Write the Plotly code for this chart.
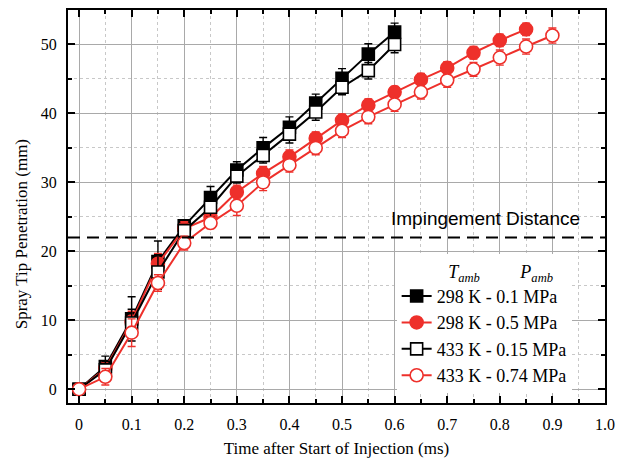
import plotly.graph_objects as go

# Time after start of injection (ms)
t_short = [0, 0.05, 0.10, 0.15, 0.20, 0.25, 0.30, 0.35, 0.40, 0.45, 0.50, 0.55, 0.60]
t_mid = [0, 0.05, 0.10, 0.15, 0.20, 0.25, 0.30, 0.35, 0.40, 0.45, 0.50, 0.55, 0.60,
         0.65, 0.70, 0.75, 0.80, 0.85]
t_long = [0, 0.05, 0.10, 0.15, 0.20, 0.25, 0.30, 0.35, 0.40, 0.45, 0.50, 0.55, 0.60,
          0.65, 0.70, 0.75, 0.80, 0.85, 0.90]

# Spray tip penetration (mm) and its spread
pen_298_01 = [0, 3.3, 10.2, 18.5, 23.7, 27.8, 31.8, 35.0, 38.0, 41.5, 45.1, 48.6, 51.8]
err_298_01 = [0, 1.5, 3.2, 3.0, 0.8, 1.6, 1.2, 1.5, 1.5, 1.3, 1.4, 1.5, 1.3]

pen_298_05 = [0, 3.0, 9.8, 18.2, 23.3, 24.9, 28.6, 31.3, 33.7, 36.4, 39.0, 41.2, 43.1,
              44.9, 46.6, 48.8, 50.6, 52.2]
err_298_05 = [0, 1.0, 1.5, 1.5, 1.0, 1.0, 1.0, 1.0, 1.0, 0.9, 0.9, 0.9, 0.8,
              0.9, 0.9, 0.9, 0.9, 0.9]

pen_433_015 = [0, 2.8, 9.6, 17.0, 23.0, 26.4, 30.9, 33.9, 37.0, 40.2, 43.8, 46.2, 50.0]
err_433_015 = [0, 1.2, 2.0, 2.5, 0.8, 1.4, 1.0, 1.1, 1.3, 1.2, 1.1, 1.2, 1.2]

pen_433_074 = [0, 1.8, 8.2, 15.4, 21.2, 24.1, 26.6, 30.0, 32.5, 35.0, 37.5, 39.5, 41.3,
               43.1, 44.8, 46.4, 48.1, 49.7, 51.3]
err_433_074 = [0, 1.2, 2.0, 1.2, 1.0, 0.8, 1.4, 1.2, 1.0, 1.0, 1.0, 1.0, 1.0,
               1.0, 1.0, 1.0, 1.1, 1.1, 1.1]

series_names = ["298 K - 0.1 MPa", "298 K - 0.5 MPa", "433 K - 0.15 MPa", "433 K - 0.74 MPa"]

impingement_distance = 22  # mm

x_tick_vals = [0, 0.1, 0.2, 0.3, 0.4, 0.5, 0.6, 0.7, 0.8, 0.9, 1.0]
x_tick_text = ["0", "0.1", "0.2", "0.3", "0.4", "0.5", "0.6", "0.7", "0.8", "0.9", "1.0"]
y_tick_vals = [0, 10, 20, 30, 40, 50]

BLACK = "#000000"
RED = "#ee302b"
SERIF = "Liberation Serif, Times New Roman, serif"

fig = go.Figure()


def add_series(x, y, err, name, color, symbol, filled):
    fig.add_trace(go.Scatter(
        x=x, y=y, name=name, mode="lines+markers",
        line=dict(color=color, width=2),
        marker=dict(symbol=symbol, size=12 if symbol == "square" else 13,
                    color=color if filled else "white",
                    line=dict(color=color, width=1.6)),
        error_y=dict(type="data", array=err, visible=True, color=color,
                     thickness=1.4, width=4),
    ))


add_series(t_short, pen_298_01, err_298_01, series_names[0], BLACK, "square", True)
add_series(t_mid, pen_298_05, err_298_05, series_names[1], RED, "circle", True)
add_series(t_short, pen_433_015, err_433_015, series_names[2], BLACK, "square", False)
add_series(t_long, pen_433_074, err_433_074, series_names[3], RED, "circle", False)

# Impingement distance reference line
fig.add_shape(type="line", xref="paper", x0=0, x1=1, yref="y",
              y0=impingement_distance, y1=impingement_distance,
              line=dict(color="black", width=2, dash="12px,7px"), layer="above")
fig.add_annotation(x=0.772, y=impingement_distance + 2.8, xref="x", yref="y",
                   text="Impingement Distance", showarrow=False,
                   font=dict(family="Liberation Sans, Arial, sans-serif", size=19,
                             color="black"),
                   xanchor="center", yanchor="middle")

# Vertical axis title, placed a little below the axis centre
fig.add_annotation(x=-0.087, y=0.43, xref="paper", yref="paper",
                   text="Spray Tip Penetration (mm)", textangle=-90, showarrow=False,
                   font=dict(family=SERIF, size=17, color="black"),
                   xanchor="center", yanchor="middle")

axis_common = dict(
    showline=True, linecolor="black", linewidth=2, mirror="ticks",
    ticks="inside", ticklen=7, tickwidth=1.5, tickcolor="black",
    showgrid=True, gridcolor="#a9a9a9", gridwidth=1,
    zeroline=False, automargin=False,
    tickfont=dict(family=SERIF, size=16, color="black"),
)

fig.update_xaxes(
    **axis_common,
    range=[-0.021, 1.0],
    tickvals=x_tick_vals, ticktext=x_tick_text,
    ticklabelstandoff=6,
    minor=dict(dtick=0.05, tick0=0, ticks="inside", ticklen=4, tickwidth=1.5,
               tickcolor="black", showgrid=True, gridcolor="#c8c8c8",
               griddash="dot", gridwidth=1),
    title=dict(text="Time after Start of Injection (ms)",
               font=dict(family=SERIF, size=17, color="black"), standoff=11),
)
fig.update_yaxes(
    **axis_common,
    range=[-2, 55],
    tickvals=y_tick_vals,
    ticklabelstandoff=6,
    minor=dict(dtick=5, tick0=0, ticks="inside", ticklen=4, tickwidth=1.5,
               tickcolor="black", showgrid=True, gridcolor="#c8c8c8",
               griddash="dot", gridwidth=1),
)

nb = "\u00a0"
legend_title = (nb * 11 + "<i>T</i><sub><i>amb</i></sub>" + nb * 9
                + "<i>P</i><sub><i>amb</i></sub>")

fig.update_layout(
    width=618, height=458,
    margin=dict(l=68, r=13, t=10, b=55, autoexpand=False),
    plot_bgcolor="white", paper_bgcolor="white",
    font=dict(family=SERIF, size=17, color="black"),
    showlegend=True,
    legend=dict(
        x=0.612, y=0.378, xanchor="left", yanchor="top",
        bgcolor="white", borderwidth=0,
        font=dict(family=SERIF, size=18, color="black"),
        title=dict(text=legend_title, font=dict(family=SERIF, size=18, color="black")),
        tracegroupgap=0,
    ),
)

fig.write_html("out.html")
